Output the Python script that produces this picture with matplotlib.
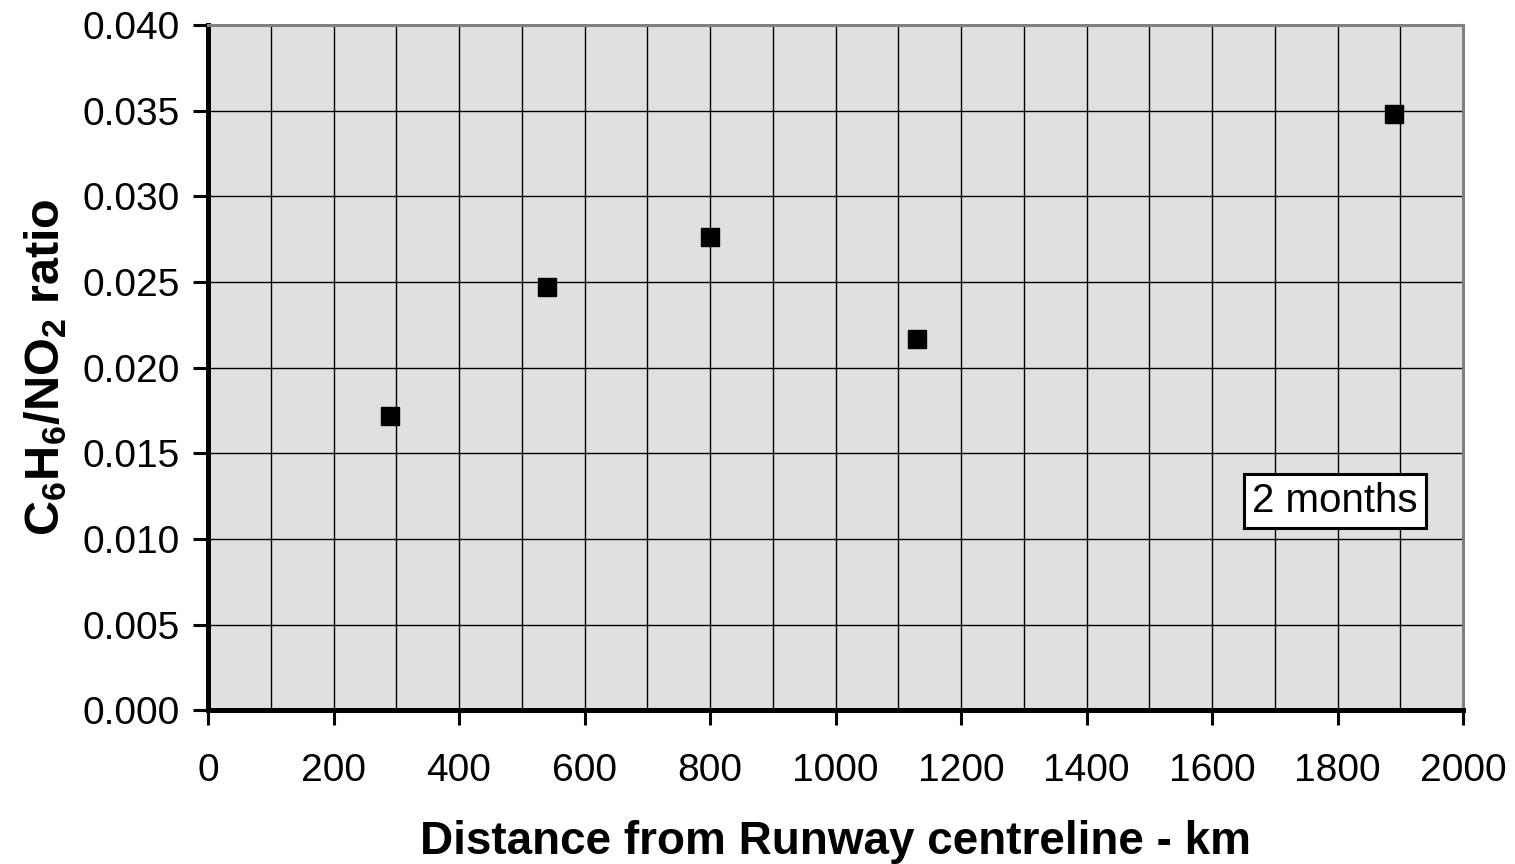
import matplotlib
matplotlib.use("Agg")
import matplotlib.pyplot as plt
from matplotlib.ticker import MultipleLocator

plt.rcParams['font.family'] = ['Liberation Sans', 'DejaVu Sans']
plt.rcParams['mathtext.fontset'] = 'custom'
plt.rcParams['mathtext.rm'] = 'Liberation Sans'
plt.rcParams['mathtext.bf'] = 'Liberation Sans:bold'

# data
distance = [290, 540, 800, 1130, 1890]
ratio = [0.0172, 0.0247, 0.0276, 0.0217, 0.0348]

fig = plt.figure(figsize=(15.15, 8.64), dpi=100)
ax = fig.add_axes([0.1373, 0.178, 0.8284, 0.793])
ax.set_facecolor('#e0e0e0')

ax.plot(distance, ratio, 's', color='black', markersize=13, zorder=5)

ax.set_xlim(0, 2000)
ax.set_ylim(0, 0.040)
ax.xaxis.set_major_locator(MultipleLocator(200))
ax.xaxis.set_minor_locator(MultipleLocator(100))
ax.yaxis.set_major_locator(MultipleLocator(0.005))
ax.yaxis.set_major_formatter(matplotlib.ticker.FormatStrFormatter('%.3f'))

ax.grid(True, which='both', axis='x', color='black', linewidth=1)
ax.grid(True, which='major', axis='y', color='black', linewidth=1)
ax.set_axisbelow(True)

ax.tick_params(axis='both', which='major', direction='out', length=11, width=2.2,
               labelsize=28, color='black')
ax.tick_params(axis='x', which='minor', length=0)
ax.tick_params(axis='x', pad=20)
ax.tick_params(axis='y', pad=9)

for s in ['left', 'bottom']:
    ax.spines[s].set_linewidth(3.6)
    ax.spines[s].set_color('black')
for s in ['top', 'right']:
    ax.spines[s].set_linewidth(2.2)
    ax.spines[s].set_color('#808080')

ax.set_xlabel('Distance from Runway centreline - km', fontsize=33,
              fontweight='bold', labelpad=22)
ax.set_ylabel(r'$\mathbf{C_6H_6/NO_2}$ ratio', fontsize=35,
              fontweight='bold', labelpad=10)

ax.text(1796, 0.0122, '2 months', fontsize=29, ha='center', va='center',
        bbox=dict(boxstyle='square,pad=0.2', facecolor='white',
                  edgecolor='black', linewidth=2.2), zorder=6)

fig.savefig('out.png', dpi=100)
